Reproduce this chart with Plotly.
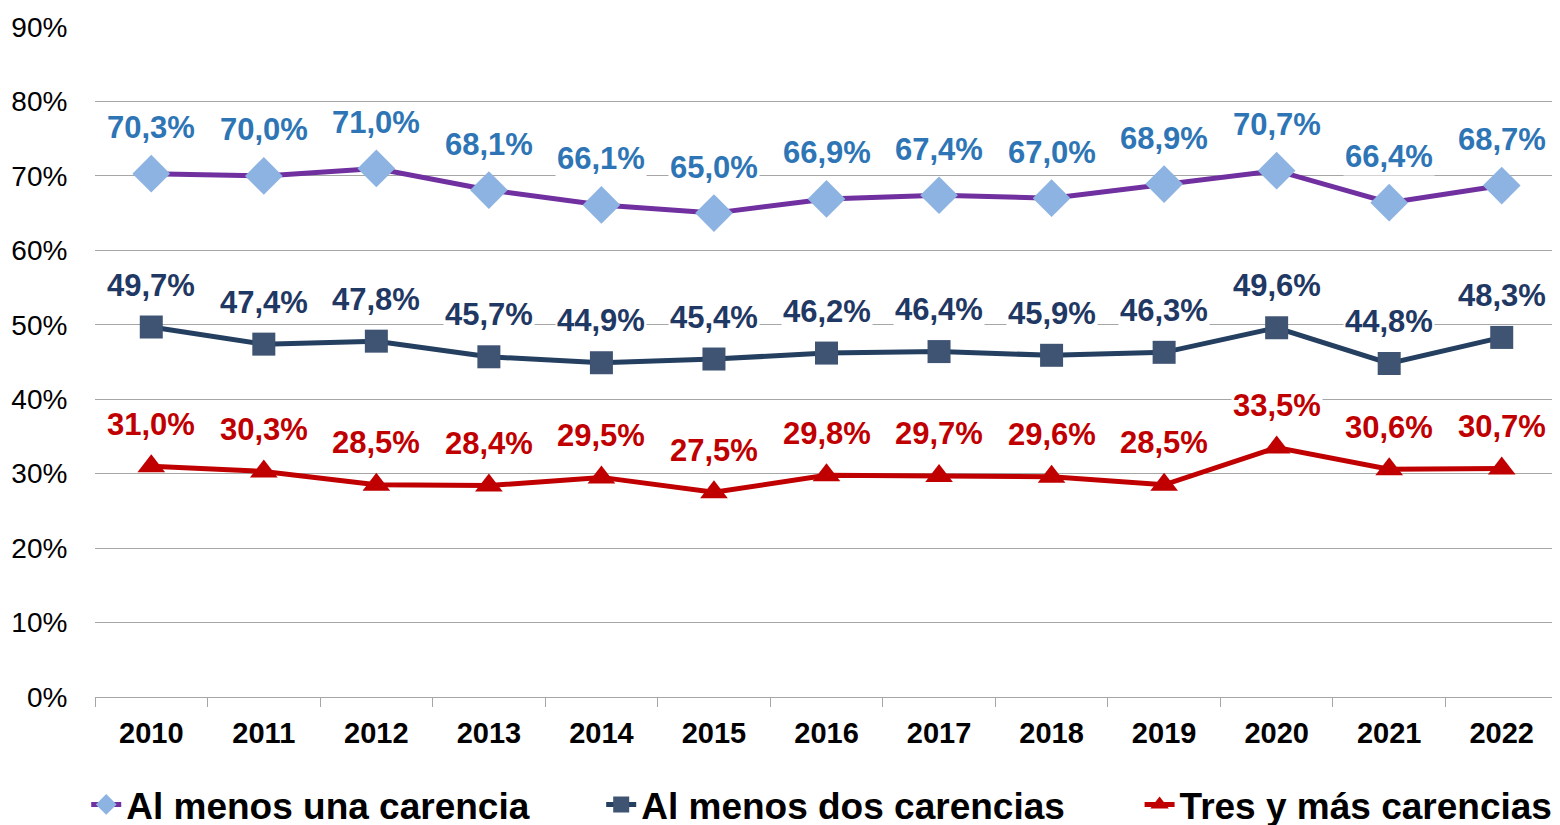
from plotly import graph_objects as go

anios = ["2010", "2011", "2012", "2013", "2014", "2015", "2016",
         "2017", "2018", "2019", "2020", "2021", "2022"]
una_carencia = [70.3, 70.0, 71.0, 68.1, 66.1, 65.0, 66.9, 67.4, 67.0, 68.9, 70.7, 66.4, 68.7]
dos_carencias = [49.7, 47.4, 47.8, 45.7, 44.9, 45.4, 46.2, 46.4, 45.9, 46.3, 49.6, 44.8, 48.3]
tres_carencias = [31.0, 30.3, 28.5, 28.4, 29.5, 27.5, 29.8, 29.7, 29.6, 28.5, 33.5, 30.6, 30.7]

FUENTE = "Liberation Sans, Arial, sans-serif"

series = [
    # nombre, valores, color linea, marcador, color marcador, tamano, color etiqueta, desplazamiento, leyenda, x leyenda
    ("Al menos una carencia", una_carencia, "#7030A0", "diamond", "#8DB3E2", 29, "#2E75B6", 46, "legend", -0.006),
    ("Al menos dos carencias", dos_carencias, "#243F60", "square", "#3F5373", 23, "#1F3864", 42, "legend2", 0.346),
    ("Tres y más carencias", tres_carencias, "#C00000", "triangle-up", "#C00000", 24, "#C00000", 42, "legend3", 0.714),
]

fig = go.Figure()

anotaciones = []
leyendas = {}
for nombre, valores, color, simbolo, color_m, tam, color_t, dy, ley, xley in series:
    fig.add_trace(go.Scatter(
        name=nombre, x=anios, y=valores, mode="lines+markers",
        line=dict(color=color, width=5),
        marker=dict(symbol=simbolo, color=color_m, size=tam),
        legend=ley, showlegend=True,
    ))
    # las etiquetas usan el indice de la categoria (los anios parecen numeros)
    for i, v in enumerate(valores):
        anotaciones.append(dict(
            x=i, y=v, yshift=dy, showarrow=False,
            text=f"{v:.1f}".replace(".", ",") + "%",
            font=dict(family=FUENTE, size=31, color=color_t, weight="bold"),
            bgcolor="white",
        ))
    leyendas[ley] = dict(
        orientation="h", x=xley, xanchor="left", y=-0.161, yanchor="middle",
        font=dict(family=FUENTE, size=37, color="black", weight="bold"),
        bgcolor="rgba(0,0,0,0)",
    )

fig.update_layout(
    width=1560, height=825,
    margin=dict(l=87, r=10, t=19, b=136, autoexpand=False),
    plot_bgcolor="white", paper_bgcolor="white",
    font=dict(family=FUENTE, color="black"),
    showlegend=True,
    annotations=anotaciones,
    **leyendas,
)

fig.update_yaxes(
    range=[0, 90], dtick=10, ticksuffix="%",
    showgrid=True, gridcolor="#A6A6A6", gridwidth=1,
    zeroline=False, showline=False,
    tickfont=dict(family=FUENTE, size=28, color="black"),
    ticks="outside", ticklen=21, tickcolor="rgba(0,0,0,0)",
    automargin=False,
)
fig.update_xaxes(
    type="category", range=[-0.5, len(anios) - 0.5], autorange=False,
    automargin=False, tickangle=0,
    showgrid=False, showline=True, linecolor="#A6A6A6", linewidth=1,
    ticks="outside", tickson="boundaries", ticklen=9, tickcolor="#A6A6A6",
    tickfont=dict(family=FUENTE, size=29, color="black", weight="bold"),
    ticklabelstandoff=10,
)

fig.write_html("out.html")
